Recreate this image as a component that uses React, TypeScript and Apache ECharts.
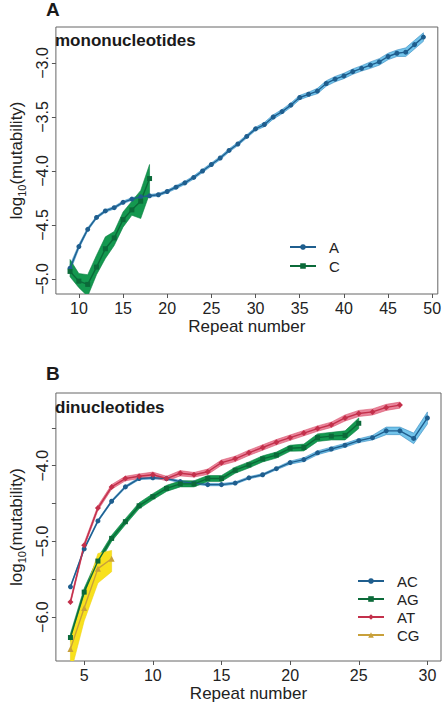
import React, { useEffect, useRef } from "react";
import * as echarts from "echarts";

// ---------- Panel A: mononucleotides ----------
const repeatsA_A = [9,10,11,12,13,14,15,16,17,18,19,20,21,22,23,24,25,26,27,28,29,30,31,32,33,34,35,36,37,38,39,40,41,42,43,44,45,46,47,48,49];
const valuesA_A = [-4.90,-4.70,-4.54,-4.43,-4.37,-4.34,-4.29,-4.26,-4.24,-4.23,-4.22,-4.19,-4.15,-4.11,-4.06,-4.00,-3.94,-3.88,-3.81,-3.75,-3.68,-3.61,-3.57,-3.50,-3.45,-3.39,-3.32,-3.29,-3.26,-3.19,-3.15,-3.12,-3.08,-3.05,-3.02,-2.99,-2.94,-2.91,-2.90,-2.83,-2.76];
const errA_A = [0.03,0.02,0.015,0.012,0.012,0.012,0.012,0.012,0.012,0.012,0.012,0.012,0.015,0.015,0.015,0.015,0.015,0.015,0.015,0.015,0.015,0.015,0.02,0.02,0.02,0.02,0.02,0.02,0.025,0.025,0.025,0.025,0.025,0.025,0.03,0.03,0.03,0.03,0.04,0.04,0.04];

const repeatsA_C = [9,10,11,12,13,14,15,16,17,18];
const valuesA_C = [-4.93,-5.02,-5.05,-4.89,-4.72,-4.62,-4.45,-4.36,-4.28,-4.07];
const upperA_C = [-4.82,-4.95,-4.96,-4.78,-4.61,-4.56,-4.38,-4.28,-4.18,-3.94];
const lowerA_C = [-4.98,-5.08,-5.16,-4.96,-4.81,-4.69,-4.52,-4.41,-4.44,-4.21];

// ---------- Panel B: dinucleotides ----------
const repeatsB_AC = [4,5,6,7,8,9,10,11,12,13,14,15,16,17,18,19,20,21,22,23,24,25,26,27,28,29,30];
const valuesB_AC = [-5.60,-5.10,-4.73,-4.47,-4.28,-4.17,-4.16,-4.17,-4.21,-4.23,-4.25,-4.25,-4.23,-4.16,-4.12,-4.04,-3.96,-3.92,-3.83,-3.78,-3.73,-3.67,-3.63,-3.54,-3.54,-3.64,-3.37];
const errB_AC = [0.015,0.015,0.015,0.015,0.015,0.015,0.015,0.015,0.015,0.015,0.015,0.015,0.015,0.015,0.015,0.015,0.02,0.025,0.025,0.025,0.025,0.025,0.03,0.05,0.05,0.07,0.08];

const repeatsB_AG = [4,5,6,7,8,9,10,11,12,13,14,15,16,17,18,19,20,21,22,23,24,25];
const valuesB_AG = [-6.27,-5.67,-5.26,-4.96,-4.74,-4.53,-4.41,-4.30,-4.24,-4.24,-4.17,-4.17,-4.06,-3.99,-3.91,-3.86,-3.77,-3.76,-3.63,-3.61,-3.60,-3.44];
const errB_AG = [0.05,0.05,0.045,0.04,0.04,0.04,0.04,0.04,0.04,0.04,0.04,0.04,0.04,0.04,0.04,0.04,0.04,0.045,0.05,0.05,0.06,0.07];

const repeatsB_AT = [4,5,6,7,8,9,10,11,12,13,14,15,16,17,18,19,20,21,22,23,24,25,26,27,28];
const valuesB_AT = [-5.80,-5.05,-4.56,-4.28,-4.17,-4.14,-4.12,-4.17,-4.10,-4.12,-4.08,-3.96,-3.91,-3.83,-3.76,-3.69,-3.63,-3.57,-3.51,-3.46,-3.37,-3.31,-3.29,-3.23,-3.20];
const errB_AT = [0.03,0.03,0.03,0.03,0.03,0.03,0.035,0.03,0.035,0.03,0.035,0.035,0.035,0.035,0.035,0.035,0.035,0.035,0.035,0.035,0.04,0.04,0.04,0.04,0.04];

const repeatsB_CG = [4,5,6,7];
const valuesB_CG = [-6.42,-5.88,-5.36,-5.23];
const upperB_CG = [-6.27,-5.72,-5.16,-5.12];
const lowerB_CG = [-6.75,-6.05,-5.55,-5.40];

// ---------- axis ticks ----------
const xTicksA = [10,15,20,25,30,35,40,45,50];
const yTicksA = [-5.0,-4.5,-4.0,-3.5,-3.0];
const xTicksB = [5,10,15,20,25,30];
const yTickMarksB = [-6.0,-5.5,-5.0,-4.5,-4.0,-3.5];
const yTickLabelsB = [-6.0,-5.0,-4.0];

const FONT = "'Liberation Sans', Arial, Helvetica, sans-serif";

const addErr = (v: number[], e: number[], s: number) => v.map((x, i) => +(x + s * e[i]).toFixed(3));

function bandSeries(name: string, xs: number[], lo: number[], hi: number[], fill: string, stroke: string, gi: number) {
  return {
    type: "custom",
    name: name + " band",
    xAxisIndex: gi,
    yAxisIndex: gi,
    silent: true,
    clip: true,
    z: 1,
    data: xs.map((x, i) => [x, lo[i], hi[i]]),
    encode: { x: 0, y: [1, 2] },
    renderItem: (params: any, api: any) => {
      if (params.dataIndex !== 0) return null;
      const pts: number[][] = [];
      for (let i = 0; i < xs.length; i++) pts.push(api.coord([xs[i], hi[i]]));
      for (let i = xs.length - 1; i >= 0; i--) pts.push(api.coord([xs[i], lo[i]]));
      return {
        type: "polygon",
        shape: { points: pts },
        style: { fill, stroke, lineWidth: 0.6 },
      };
    },
  };
}

function lineSeries(name: string, xs: number[], vs: number[], color: string, symbol: string, size: number, gi: number) {
  return {
    type: "line",
    name,
    xAxisIndex: gi,
    yAxisIndex: gi,
    z: 3,
    data: xs.map((x, i) => [x, vs[i]]),
    symbol,
    symbolSize: size,
    showSymbol: true,
    color,
    itemStyle: { color },
    lineStyle: { color, width: 1.4 },
  };
}

const fmt = (v: number) => (v < 0 ? "\u2212" : "") + Math.abs(v).toFixed(1);

function xAxis(gi: number, min: number, max: number, ticks: number[]) {
  return {
    type: "value",
    gridIndex: gi,
    min,
    max,
    name: "Repeat number",
    nameLocation: "middle",
    nameGap: 24,
    nameTextStyle: { fontFamily: FONT, fontSize: 17, color: "#222" },
    splitLine: { show: false },
    axisLine: { show: false },
    axisTick: { show: true, inside: false, length: 4, lineStyle: { color: "#555" }, customValues: ticks },
    axisLabel: { fontFamily: FONT, fontSize: 16, color: "#222", margin: 6, customValues: ticks, formatter: (v: number) => String(v) },
  };
}

function yAxis(gi: number, min: number, max: number, tickMarks: number[], tickLabels: number[]) {
  return {
    type: "value",
    gridIndex: gi,
    min,
    max,
    name: "log{s|10}(mutability)",
    nameLocation: "middle",
    nameRotate: 90,
    nameGap: 28,
    nameTextStyle: {
      fontFamily: FONT,
      fontSize: 17,
      color: "#222",
      rich: { s: { fontFamily: FONT, fontSize: 11, color: "#222", padding: [10, 0, 0, 0] } },
    },
    splitLine: { show: false },
    axisLine: { show: false },
    axisTick: { show: true, inside: false, length: 4, lineStyle: { color: "#555" }, customValues: tickMarks },
    axisLabel: { fontFamily: FONT, fontSize: 16, color: "#222", margin: 5, rotate: 90, customValues: tickLabels, formatter: fmt },
  };
}

const BLUE = "#1f5e8e", BLUE_F = "#72c3ea", BLUE_S = "#3b8cc0";
const GREEN = "#0b6a39", GREEN_F = "#14984f", GREEN_S = "#0e8244";
const RED = "#c3304b", RED_F = "#e9839a", RED_S = "#d9566f";
const YEL = "#c8a03a", YEL_F = "#f8e11c", YEL_S = "#f0d41c";

export default function App() {
  const ref = useRef<HTMLDivElement>(null);
  useEffect(() => {
    if (!ref.current) return;
    const chart = echarts.init(ref.current, undefined, { renderer: "svg" });
    const legendText = { fontFamily: FONT, fontSize: 15, lineHeight: 16, color: "#222", padding: [0, 0, 0, 8] };
    chart.setOption({
      animation: false,
      backgroundColor: "#ffffff",
      grid: [
        { left: 46, top: 27, width: 395, height: 267, show: true, borderColor: "#666", borderWidth: 1, backgroundColor: "transparent" },
        { left: 46, top: 393, width: 395, height: 269, show: true, borderColor: "#666", borderWidth: 1, backgroundColor: "transparent" },
      ],
      xAxis: [xAxis(0, 7.4, 50.63, xTicksA), xAxis(1, 2.94, 30.99, xTicksB)],
      yAxis: [yAxis(0, -5.139, -2.667, yTicksA, yTicksA), yAxis(1, -6.58, -3.04, yTickMarksB, yTickLabelsB)],
      legend: [
        { data: ["A", "C"], orient: "vertical", left: 289, top: 239, itemWidth: 26, itemHeight: 7, itemGap: 3, padding: 0, textStyle: legendText },
        { data: ["AC", "AG", "AT", "CG"], orient: "vertical", left: 357, top: 573, itemWidth: 26, itemHeight: 7, itemGap: 2, padding: 0, textStyle: legendText },
      ],
      graphic: [
        { type: "text", left: 46, top: 0, style: { text: "A", font: `bold 19px ${FONT}`, fill: "#1a1a1a" } },
        { type: "text", left: 46, top: 364, style: { text: "B", font: `bold 19px ${FONT}`, fill: "#1a1a1a" } },
        { type: "text", left: 55, top: 32, style: { text: "mononucleotides", font: `bold 17px ${FONT}`, fill: "#1a1a1a" } },
        { type: "text", left: 55, top: 399, style: { text: "dinucleotides", font: `bold 17px ${FONT}`, fill: "#1a1a1a" } },
      ],
      series: [
        bandSeries("A", repeatsA_A, addErr(valuesA_A, errA_A, -1), addErr(valuesA_A, errA_A, 1), BLUE_F, BLUE_S, 0),
        bandSeries("C", repeatsA_C, lowerA_C, upperA_C, GREEN_F, GREEN_S, 0),
        lineSeries("A", repeatsA_A, valuesA_A, BLUE, "circle", 5, 0),
        lineSeries("C", repeatsA_C, valuesA_C, GREEN, "rect", 5, 0),

        bandSeries("AC", repeatsB_AC, addErr(valuesB_AC, errB_AC, -1), addErr(valuesB_AC, errB_AC, 1), BLUE_F, BLUE_S, 1),
        bandSeries("AG", repeatsB_AG, addErr(valuesB_AG, errB_AG, -1), addErr(valuesB_AG, errB_AG, 1), GREEN_F, GREEN_S, 1),
        bandSeries("AT", repeatsB_AT, addErr(valuesB_AT, errB_AT, -1), addErr(valuesB_AT, errB_AT, 1), RED_F, RED_S, 1),
        bandSeries("CG", repeatsB_CG, lowerB_CG, upperB_CG, YEL_F, YEL_S, 1),
        lineSeries("AC", repeatsB_AC, valuesB_AC, BLUE, "circle", 5, 1),
        lineSeries("AG", repeatsB_AG, valuesB_AG, GREEN, "rect", 5, 1),
        lineSeries("AT", repeatsB_AT, valuesB_AT, RED, "diamond", 6, 1),
        lineSeries("CG", repeatsB_CG, valuesB_CG, YEL, "triangle", 6, 1),
      ],
    });
    return () => chart.dispose();
  }, []);
  return <div ref={ref} style={{ position: "absolute", left: 0, top: 0, width: 444, height: 703 }} />;
}
